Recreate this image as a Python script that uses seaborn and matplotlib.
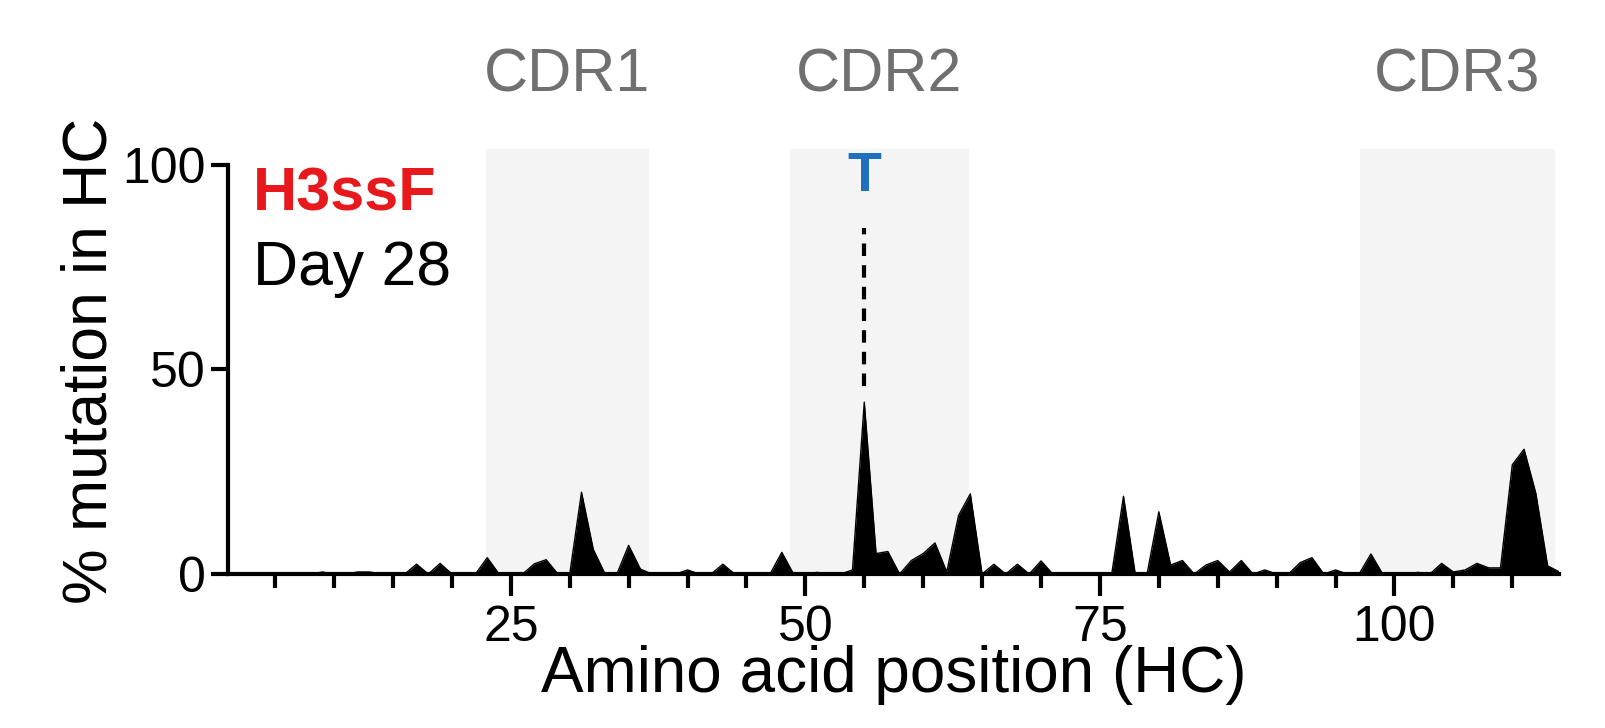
import numpy as np
import pandas as pd
import seaborn as sns
import matplotlib
matplotlib.use("Agg")
import matplotlib.pyplot as plt

positions = list(range(1, 115))
nonzero = {9: 0.5, 12: 0.5, 13: 0.5, 17: 2.4, 19: 2.6, 23: 4.0, 27: 2.5, 28: 3.5,
           31: 20.0, 32: 6.0, 35: 7.0, 36: 1.2, 40: 1.0, 43: 2.4, 48: 5.3, 51: 0.4,
           54: 1.0, 55: 42.0, 56: 5.0, 57: 5.5, 59: 3.3, 60: 5.0, 61: 7.6, 62: 0.5,
           63: 14.3, 64: 19.6, 66: 2.4, 68: 2.4, 70: 3.2, 77: 19.0, 80: 15.2, 81: 2.2,
           82: 3.3, 84: 2.2, 85: 3.3, 86: 0.5, 87: 3.3, 89: 1.0, 92: 2.8, 93: 4.0,
           95: 1.0, 98: 4.9, 102: 0.4, 104: 2.6, 105: 0.5, 106: 1.0, 107: 2.6,
           108: 1.5, 109: 1.5, 110: 26.7, 111: 30.5, 112: 19.7, 113: 2.0, 114: 0.5}
mutation = [nonzero.get(p, 0.0) for p in positions]

cdr_names = ["CDR1", "CDR2", "CDR3"]
cdr_start = [22.9, 48.7, 97.1]
cdr_end = [36.7, 63.9, 113.6]
x_major = [25, 50, 75, 100]
y_ticks = [0, 50, 100]
highlight_pos = 55
highlight_label = "T"

df = pd.DataFrame({"pos": positions, "mut": mutation})

sns.set_style("white")
plt.rcParams['font.family'] = ['Liberation Sans', 'DejaVu Sans']
plt.rcParams['text.color'] = 'black'
plt.rcParams['axes.labelcolor'] = 'black'
plt.rcParams['xtick.color'] = 'black'
plt.rcParams['ytick.color'] = 'black'

fig = plt.figure(figsize=(16.06, 7.28), dpi=100)
ax = fig.add_axes([0.142, 0.2115, 0.829, 0.5845])

for s, e in zip(cdr_start, cdr_end):
    ax.axvspan(s, e, ymin=0, ymax=1, color="#f4f4f4", zorder=0, lw=0)

sns.lineplot(data=df, x="pos", y="mut", color="black", lw=1, ax=ax, zorder=3)
ax.fill_between(df["pos"], 0, df["mut"], color="black", lw=0, zorder=3)

ax.set_xlim(1, 114)
ax.set_ylim(0, 104)
for sp in ["top", "right"]:
    ax.spines[sp].set_visible(False)
for sp in ["left", "bottom"]:
    ax.spines[sp].set_linewidth(3)
    ax.spines[sp].set_color("black")
ax.spines["left"].set_bounds(0, 100)

ax.set_xticks(x_major)
ax.set_xticks(list(range(5, 115, 5)), minor=True)
ax.set_yticks(y_ticks)
ax.tick_params(axis="x", which="major", length=16, width=3, labelsize=36, pad=6)
ax.tick_params(axis="x", which="minor", length=10, width=3)
ax.tick_params(axis="y", which="major", length=12, width=3, labelsize=36, pad=4)
ax.tick_params(bottom=True, left=True, which="both", direction="out")

ax.set_xlabel("Amino acid position (HC)", fontsize=46, labelpad=-4)
ax.set_ylabel("% mutation in HC", fontsize=45, labelpad=2)

for name, s, e in zip(cdr_names, cdr_start, cdr_end):
    ax.text((s + e) / 2, 1.17, name, transform=ax.get_xaxis_transform(),
            ha="center", va="center", fontsize=44, color="#707070")

ax.text(highlight_pos, 97, highlight_label, ha="center", va="center",
        fontsize=40, fontweight="bold", color="#1f6fbf")
ax.plot([highlight_pos, highlight_pos], [46, 84.5], ls=(0, (3, 2.2)), color="black", lw=3)

fig.text(253 / 1606, 1 - 195 / 728, "H3ssF", color="#e8191c", fontsize=44,
         fontweight="bold", ha="left", va="center")
fig.text(253 / 1606, 1 - 268 / 728, "Day 28", color="black", fontsize=45,
         ha="left", va="center")

fig.savefig("out.png", dpi=100)
